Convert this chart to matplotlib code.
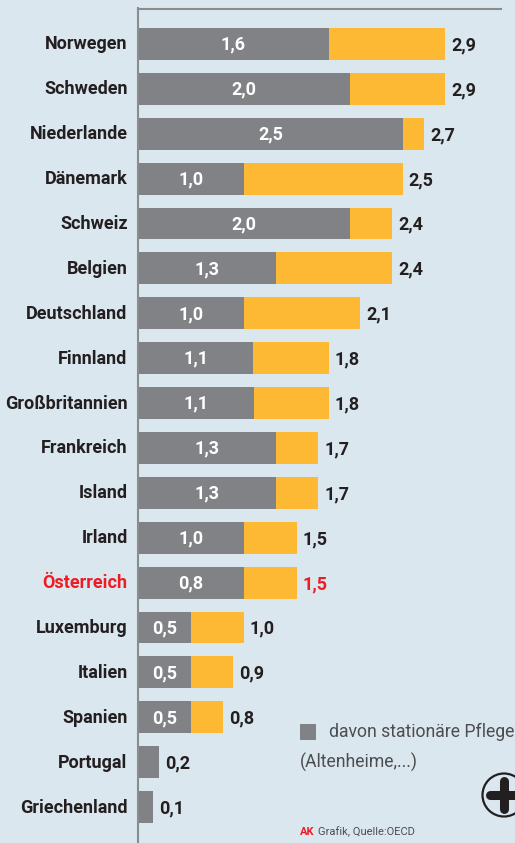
import matplotlib
matplotlib.use('Agg')
import matplotlib.pyplot as plt
from matplotlib.patches import Circle, Rectangle
from matplotlib.transforms import ScaledTranslation

# Countries, top to bottom
countries = ['Norwegen', 'Schweden', 'Niederlande', 'Dänemark', 'Schweiz', 'Belgien',
             'Deutschland', 'Finnland', 'Großbritannien', 'Frankreich', 'Island', 'Irland',
             'Österreich', 'Luxemburg', 'Italien', 'Spanien', 'Portugal', 'Griechenland']
# Bar lengths as drawn in the picture
total = [2.9, 2.9, 2.7, 2.5, 2.4, 2.4, 2.1, 1.8, 1.8, 1.7, 1.7, 1.5, 1.5, 1.0, 0.9, 0.8, 0.2, 0.14]
stationary = [1.8, 2.0, 2.5, 1.0, 2.0, 1.3, 1.0, 1.09, 1.1, 1.3, 1.3, 1.0, 1.0, 0.5, 0.5, 0.5, 0.2, 0.14]
# Printed labels (Norwegen's printed 1,6 is drawn longer than that)
total_labels = ['2,9', '2,9', '2,7', '2,5', '2,4', '2,4', '2,1', '1,8', '1,8', '1,7', '1,7', '1,5',
                '1,5', '1,0', '0,9', '0,8', '0,2', '0,1']
stationary_labels = ['1,6', '2,0', '2,5', '1,0', '2,0', '1,3', '1,0', '1,1', '1,1', '1,3', '1,3', '1,0',
                     '0,8', '0,5', '0,5', '0,5', '', '']

BG = '#dbe7ef'
GRAY = '#808285'
ORANGE = '#fdb933'
DARK = '#231f20'
RED = '#ed1c24'
W, H = 515, 843

plt.rcParams['font.family'] = ['Roboto', 'DejaVu Sans']

fig = plt.figure(figsize=(W / 100, H / 100), dpi=100, facecolor=BG)

# Main axes, placed in pixels
left, right, top = 138, 501, 8.5
ax = fig.add_axes([left / W, 0, (right - left) / W, 1 - top / H], facecolor='none')
ax.set_xlim(0, (right - left) / 105.9)
ax.set_ylim(17.8, -0.79)

positions = list(range(len(countries)))
ax.barh(positions, total, height=0.71, color=ORANGE, linewidth=0)
ax.barh(positions, stationary, height=0.71, color=GRAY, linewidth=0)

for i in positions:
    color = RED if countries[i] == 'Österreich' else DARK
    ax.annotate(total_labels[i], (total[i], i), xytext=(4.3, -1), textcoords='offset points',
                va='center', ha='left', fontsize=13, fontweight='bold', color=color)
    if stationary_labels[i]:
        ax.annotate(stationary_labels[i], (stationary[i] / 2, i), xytext=(0, -0.5), textcoords='offset points',
                    va='center', ha='center', fontsize=13, fontweight='bold', color='white')

ax.set_yticks(positions)
ax.set_yticklabels(countries, fontsize=13, fontweight='bold', color=DARK)
ax.get_yticklabels()[countries.index('Österreich')].set_color(RED)
ax.tick_params(axis='y', length=0, pad=7.5)
ax.set_xticks([])

# Country names sit a little above the bar centres
shift = ScaledTranslation(0, 1.5 / 100, fig.dpi_scale_trans)
for label in ax.get_yticklabels():
    label.set_transform(label.get_transform() + shift)

for side in ['right', 'bottom']:
    ax.spines[side].set_visible(False)
ax.spines['left'].set_color('#8a8c8e')
ax.spines['left'].set_linewidth(1.5)
ax.spines['top'].set_color('#8a8c8e')
ax.spines['top'].set_linewidth(1.5)

# Overlay in pixel coordinates for legend, icon and source
over = fig.add_axes([0, 0, 1, 1], facecolor='none')
over.set_xlim(0, W)
over.set_ylim(H, 0)
over.axis('off')

over.add_patch(Rectangle((300, 724), 16, 16, color=GRAY, linewidth=0))
over.text(329, 732, 'davon stationäre Pflege', va='center', ha='left', fontsize=12.7, color='#4d4d4f')
over.text(300, 762, '(Altenheime,...)', va='center', ha='left', fontsize=12.7, color='#4d4d4f')

# Plus icon, cut off by the right edge
over.add_patch(Circle((504, 795), 21.5, facecolor='none', edgecolor=DARK, linewidth=1.6))
over.plot([490, 518], [795, 795], color=DARK, linewidth=6.5, solid_capstyle='round')
over.plot([504, 504], [781, 809], color=DARK, linewidth=6.5, solid_capstyle='round')

over.text(300, 832, 'AK', va='center', ha='left', fontsize=8, fontweight='bold', color=RED)
over.text(318, 832, 'Grafik, Quelle:OECD', va='center', ha='left', fontsize=8, color='#4d4d4f')

fig.savefig('out.png', dpi=100, facecolor=BG)
